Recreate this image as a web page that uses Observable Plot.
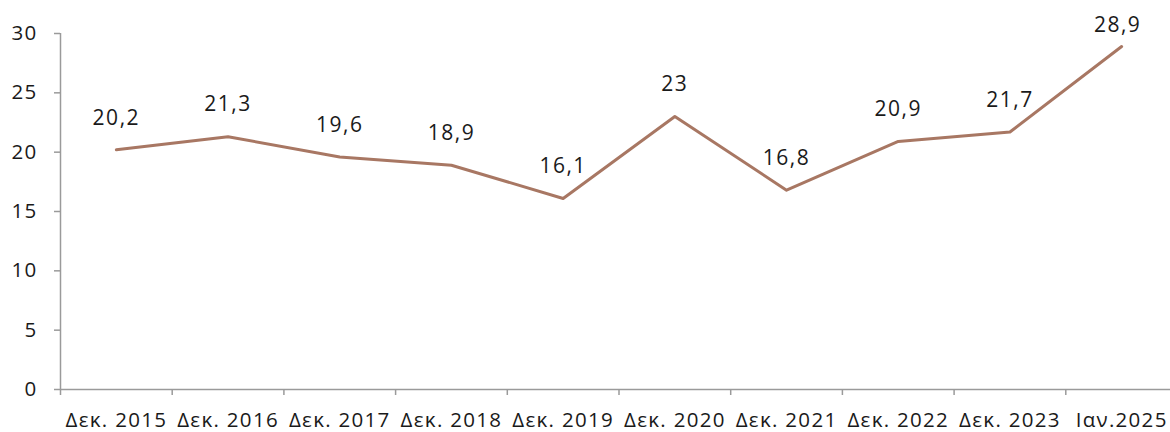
<!DOCTYPE html>
<html><head><meta charset="utf-8">
<script src="https://cdn.jsdelivr.net/npm/d3@7"></script>
<script src="https://cdn.jsdelivr.net/npm/@observablehq/plot@0.6"></script>
<style>
html,body{margin:0;padding:0;background:#fff;}
svg{display:block;}
#chart g[aria-label="y-axis tick label"] text,
#chart g[aria-label="x-axis tick label"] text{letter-spacing:1.3px;font-size:20.5px;}
#chart g[aria-label="text"] text{letter-spacing:1.5px;}
</style>
</head><body>
<div id="chart"></div>
<script>
const categories = ["Δεκ. 2015","Δεκ. 2016","Δεκ. 2017","Δεκ. 2018","Δεκ. 2019","Δεκ. 2020","Δεκ. 2021","Δεκ. 2022","Δεκ. 2023","Ιαν.2025"];
const values = [20.2, 21.3, 19.6, 18.9, 16.1, 23, 16.8, 20.9, 21.7, 28.9];
const yTicks = [0, 5, 10, 15, 20, 25, 30];

const data = categories.map((c, i) => ({cat: c, i: i + 0.5, v: values[i], last: i === categories.length - 1}));
const fmt = v => String(v).replace(".", ",");
const boundaries = d3.range(0, categories.length + 1);
const FONT = "'Open Sans', Inter, sans-serif";

const chart = Plot.plot({
  width: 1170,
  height: 432,
  marginTop: 33,
  marginBottom: 43,
  marginLeft: 60,
  marginRight: 0,
  style: {fontFamily: FONT, fontSize: "20.5px", color: "#1a1a1a", background: "#fff"},
  x: {domain: [0, categories.length], range: [60, 1177]},
  y: {domain: [0, 30]},
  marks: [
    Plot.ruleX([0], {stroke: "#9a9a9a", strokeWidth: 1.5}),
    Plot.ruleY([0], {x1: 0, x2: categories.length, stroke: "#9a9a9a", strokeWidth: 1.5}),
    Plot.axisY({ticks: yTicks, tickSize: 6, tickPadding: 17, stroke: "#9a9a9a", strokeWidth: 1.5, fill: "#1a1a1a", fontSize: 20.5, label: null}),
    Plot.axisX({ticks: boundaries, tickSize: 6, tickFormat: () => "", stroke: "#9a9a9a", strokeWidth: 1.5, label: null}),
    Plot.axisX({ticks: data.map(d => d.i), tickSize: 0, tickPadding: 23, tickFormat: (t) => categories[Math.floor(t)], fill: "#1a1a1a", fontSize: 20.5, label: null}),
    Plot.line(data, {x: "i", y: "v", stroke: "#a87763", strokeWidth: 3}),
    Plot.text(data.filter(d => !d.last), {x: "i", y: "v", text: d => fmt(d.v), dy: -32, fill: "#1a1a1a", fontSize: 21}),
    Plot.text(data.filter(d => d.last), {x: "i", y: "v", text: d => fmt(d.v), dy: -21, dx: -4, fill: "#1a1a1a", fontSize: 21})
  ]
});
document.getElementById("chart").appendChild(chart);
</script>
</body></html>
